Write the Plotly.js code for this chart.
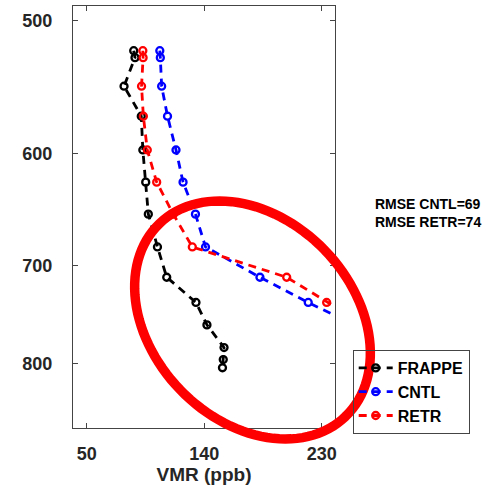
<!DOCTYPE html>
<html>
<head>
<meta charset="utf-8">
<script src="https://cdn.plot.ly/plotly-3.0.1.min.js"></script>
<style>html,body{margin:0;padding:0;background:#fff;}#chart{width:490px;height:485px;}</style>
</head>
<body>
<div id="chart"></div>
<script>
// ---- data ----
const frappeP   = [521, 526, 547, 570, 597, 624, 652, 682, 711, 736, 759, 783, 796, 805];
const frappeVMR = [86, 87, 78.6, 91.8, 93, 95.2, 97.2, 104.2, 111.3, 133.7, 142.1, 155.2, 154.6, 154];
const modelP    = [521, 526, 547, 570, 597, 624, 652, 682, 711, 736, 759];
const cntlVMR   = [106, 106.4, 107.4, 111.9, 118.4, 123.8, 133.3, 141, 182.7, 219.7, 255];
const retrVMR   = [93, 93.2, 92, 93.4, 96.4, 103.6, 116.3, 130.9, 203.2, 233.8, 263];
const seriesNames = ['FRAPPE', 'CNTL', 'RETR'];
const xTicks = [50, 140, 230];
const yTicks = [500, 600, 700, 800];
const rmseText = ['RMSE CNTL=69', 'RMSE RETR=74'];

// ---- layout constants ----
const W = 490, H = 485;
const M = {l: 73, r: 155, t: 6, b: 57};
const pw = W - M.l - M.r, ph = H - M.t - M.b;
const FONT = 'Liberation Sans, Arial, Helvetica, sans-serif';

function mkTrace(x, y, name, color) {
  return {
    x: x, y: y, name: name, type: 'scatter', mode: 'lines+markers',
    line: {color: color, width: 2.8, dash: '8px,6px'},
    marker: {symbol: 'circle-open', size: 7, color: color, line: {color: color, width: 2.3}},
    cliponaxis: true
  };
}
const traces = [
  mkTrace(frappeVMR, frappeP, seriesNames[0], '#000000'),
  mkTrace(cntlVMR, modelP, seriesNames[1], '#0000ff'),
  mkTrace(retrVMR, modelP, seriesNames[2], '#ff0000')
];

// highlight ellipse (decoration), defined in pixels and converted to paper coords
const ell = {cx: 252.5, cy: 320, a: 134, b: 100.5, angDeg: 46};
function ellipsePath() {
  const th = ell.angDeg * Math.PI / 180;
  let d = '';
  const n = 120;
  for (let i = 0; i <= n; i++) {
    const t = 2 * Math.PI * i / n;
    const px = ell.cx + ell.a * Math.cos(t) * Math.cos(th) - ell.b * Math.sin(t) * Math.sin(th);
    const py = ell.cy + ell.a * Math.cos(t) * Math.sin(th) + ell.b * Math.sin(t) * Math.cos(th);
    const xp = (px - M.l) / pw;
    const yp = (H - M.b - py) / ph;
    d += (i === 0 ? 'M' : 'L') + xp.toFixed(5) + ',' + yp.toFixed(5);
  }
  return d + 'Z';
}

const axisCommon = {
  showline: true, linecolor: '#444', linewidth: 1, mirror: 'ticks',
  ticks: 'inside', ticklen: 5, tickwidth: 1, tickcolor: '#444',
  showgrid: false, zeroline: false,
  tickfont: {family: FONT, size: 18, color: '#262626', weight: 'bold'}
};

const layout = {
  width: W, height: H, margin: M,
  paper_bgcolor: '#ffffff', plot_bgcolor: '#ffffff',
  showlegend: true,
  xaxis: Object.assign({}, axisCommon, {
    range: [39.5, 240.2], tickvals: xTicks, ticktext: xTicks.map(String),
    ticklabelstandoff: 9,
    title: {text: 'VMR (ppb)', font: {family: FONT, size: 19, color: '#262626', weight: 'bold'}, standoff: 1}
  }),
  yaxis: Object.assign({}, axisCommon, {
    type: 'log', range: [2.9417, 2.6902], tickvals: yTicks, ticktext: yTicks.map(String),
    ticklabelstandoff: 16
  }),
  legend: {
    x: (352.7 - M.l) / pw, y: -6 / ph, xanchor: 'left', yanchor: 'bottom',
    bgcolor: 'rgba(0,0,0,0)', bordercolor: '#444', borderwidth: 1,
    font: {family: FONT, size: 16, color: '#000', weight: 'bold'},
    itemwidth: 34,
    tracegroupgap: 0
  },
  annotations: [{
    xref: 'paper', yref: 'paper', x: (373 - M.l) / pw, y: (H - M.b - 212.5) / ph,
    xanchor: 'left', yanchor: 'middle', align: 'left', showarrow: false,
    text: rmseText.join('<br>'),
    font: {family: FONT, size: 14, color: '#000', weight: 'bold'}
  }],
  shapes: [{
    type: 'path', xref: 'paper', yref: 'paper', path: ellipsePath(),
    line: {color: '#ff0000', width: 9.5}, fillcolor: 'rgba(0,0,0,0)', layer: 'above'
  }]
};

Plotly.newPlot('chart', traces, layout, {staticPlot: true, displayModeBar: false});
</script>
</body>
</html>
